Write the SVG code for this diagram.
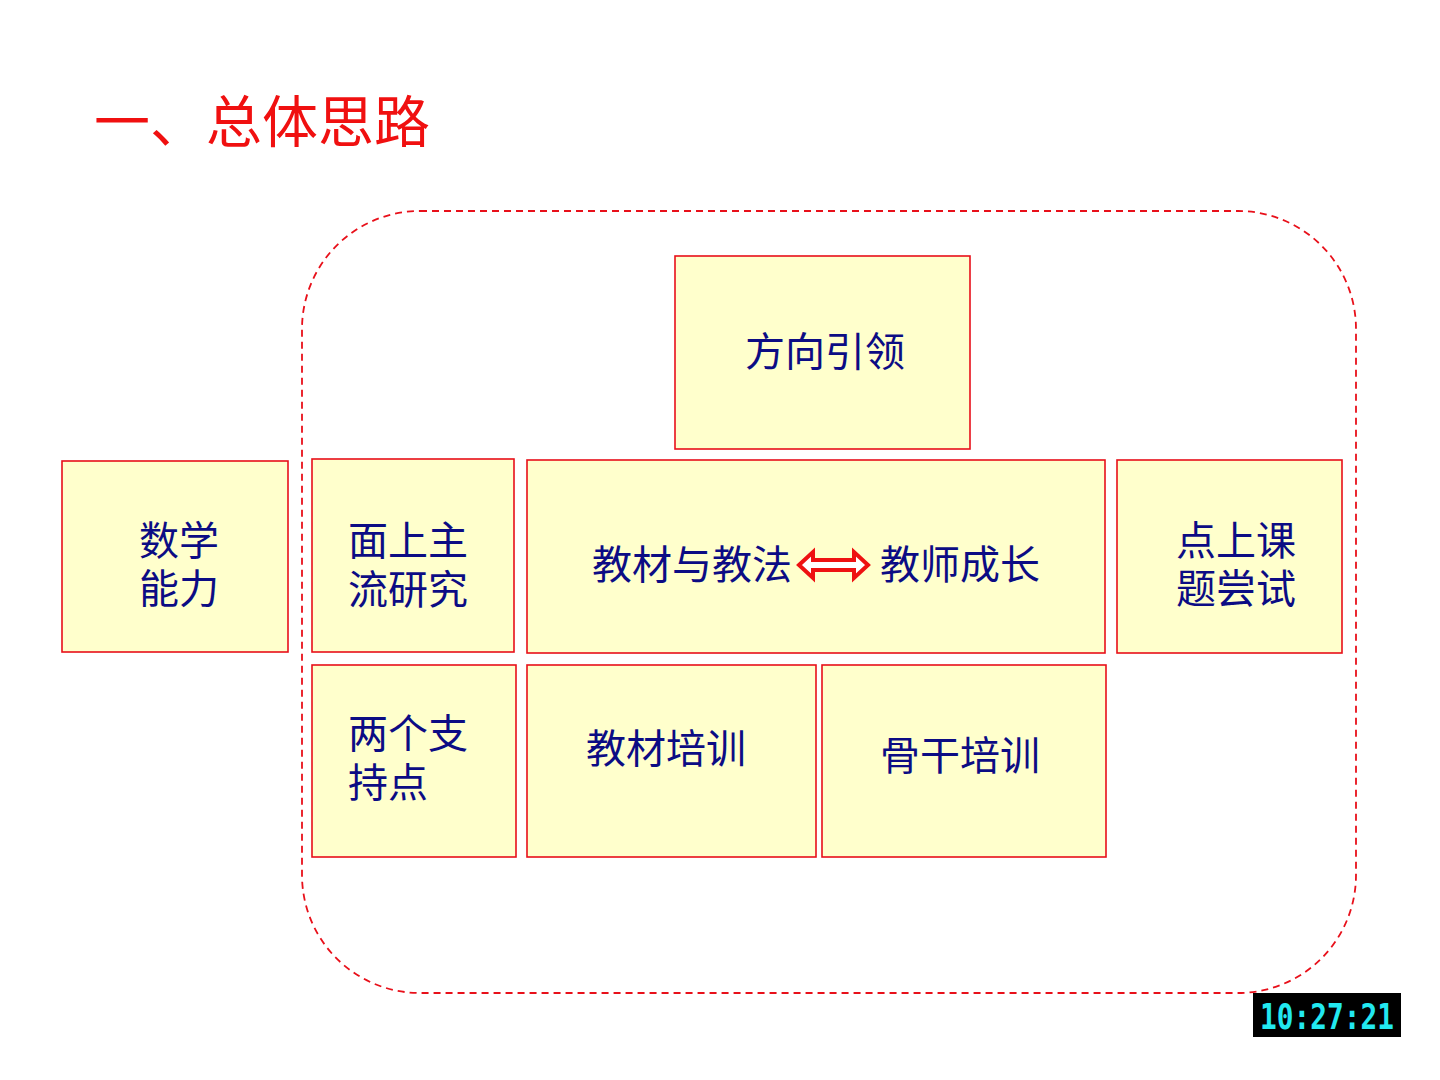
<svg xmlns="http://www.w3.org/2000/svg" width="1440" height="1080" viewBox="0 0 1440 1080">
<style>
.box{fill:#FFFFCC;stroke:#E8101A;stroke-width:1.6}
.t{font-family:"Liberation Sans","Noto Sans CJK SC",sans-serif;font-size:40px;fill:#0C0C84}
.title{font-family:"Liberation Sans","Noto Sans CJK SC",sans-serif;font-size:56px;fill:#F01010}
</style>
<rect width="1440" height="1080" fill="#FFFFFF"/>
<text class="title" x="94" y="142">一、总体思路</text>
<g id="frame"><rect x="302" y="211" width="1054" height="782" rx="118" ry="118" fill="none" stroke="#E8101A" stroke-width="1.8" stroke-dasharray="7,5"/></g>
<g id="n1"><rect class="box" x="675" y="256" width="295" height="193"/><text class="t" x="745" y="366">方向引领</text></g>
<g id="n2"><rect class="box" x="62" y="461" width="226" height="191"/><text class="t" x="139" y="555">数学</text><text class="t" x="139" y="603">能力</text></g>
<g id="n3"><rect class="box" x="312" y="459" width="202" height="193"/><text class="t" x="348" y="555">面上主</text><text class="t" x="348" y="604">流研究</text></g>
<g id="n4"><rect class="box" x="527" y="460" width="578" height="193"/><text class="t" x="592" y="579">教材与教法</text><text class="t" x="880" y="579">教师成长</text></g>
<g id="n5"><rect class="box" x="1117" y="460" width="225" height="193"/><text class="t" x="1176" y="555">点上课</text><text class="t" x="1176" y="603">题尝试</text></g>
<g id="n6"><rect class="box" x="312" y="665" width="204" height="192"/><text class="t" x="348" y="748">两个支</text><text class="t" x="348" y="797">持点</text></g>
<g id="n7"><rect class="box" x="527" y="665" width="289" height="192"/><text class="t" x="586" y="763">教材培训</text></g>
<g id="n8"><rect class="box" x="822" y="665" width="284" height="192"/><text class="t" x="880" y="770">骨干培训</text></g>
<g id="connectors"><path d="M799,565 L813,552 L813,560 L854,560 L854,552 L868,565 L854,578 L854,570 L813,570 L813,578 Z" fill="#FFFFFF" stroke="#EE1111" stroke-width="4" stroke-linejoin="miter"/></g>
<g id="clock"><rect x="1253" y="993" width="148" height="44" fill="#000000"/><text x="1327" y="1029" text-anchor="middle" font-family="'DejaVu Sans Mono',monospace" font-size="36" font-weight="bold" fill="#22E8F0" textLength="134" lengthAdjust="spacingAndGlyphs">10:27:21</text></g>
</svg>
